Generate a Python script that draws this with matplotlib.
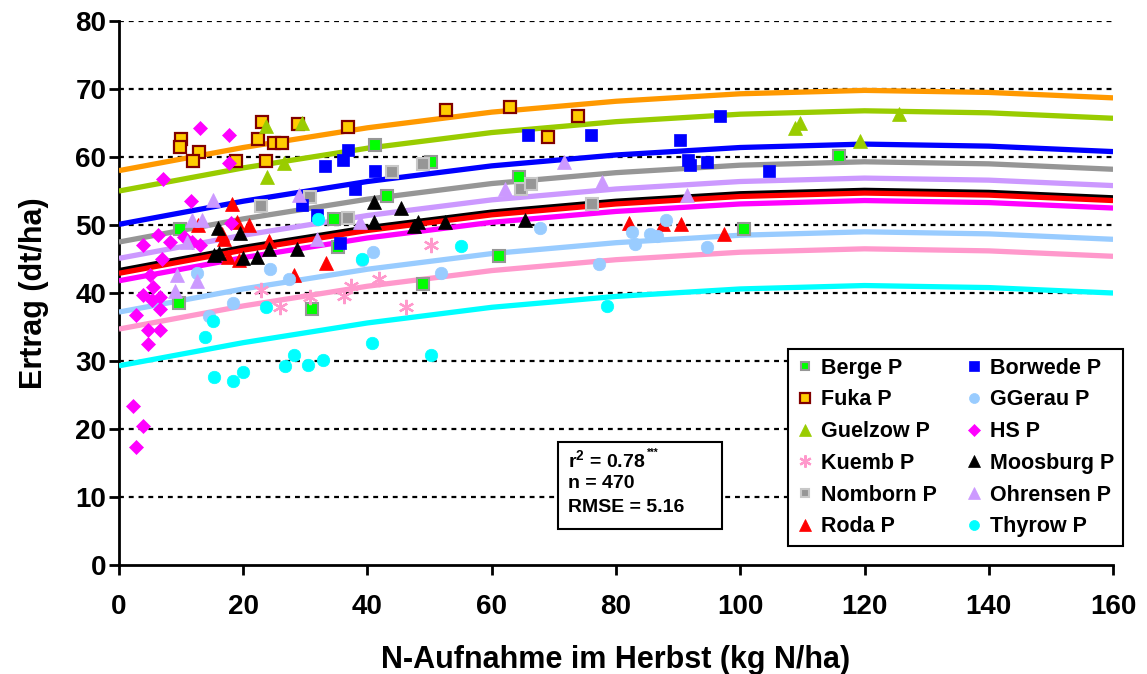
import numpy as np
import matplotlib
matplotlib.use("Agg")
import matplotlib.pyplot as plt
from matplotlib.lines import Line2D
from matplotlib.patches import Rectangle

plt.rcParams['font.family'] = ['Liberation Sans', 'DejaVu Sans']
plt.rcParams['font.weight'] = 'bold'
plt.rcParams['mathtext.fontset'] = 'custom'
plt.rcParams['mathtext.rm'] = 'Liberation Sans:bold'
plt.rcParams['mathtext.it'] = 'Liberation Sans:bold'
plt.rcParams['mathtext.bf'] = 'Liberation Sans:bold'

# fitted curves, read at x = 0, 20, ..., 160
fit_x = [0, 20, 40, 60, 80, 100, 120, 140, 160]
fit_borwede = [50.1, 53.5, 56.4, 58.7, 60.3, 61.4, 61.9, 61.6, 60.8]
fit_fuka = [58.0, 61.4, 64.3, 66.6, 68.2, 69.3, 69.8, 69.5, 68.7]
fit_ggerau = [37.2, 40.6, 43.5, 45.8, 47.4, 48.5, 49.0, 48.7, 47.9]
fit_guelzow = [55.0, 58.4, 61.3, 63.6, 65.2, 66.3, 66.8, 66.5, 65.7]
fit_hs = [41.8, 45.2, 48.1, 50.4, 52.0, 53.1, 53.6, 53.3, 52.5]
fit_kuemb = [34.7, 38.1, 41.0, 43.3, 44.9, 46.0, 46.5, 46.2, 45.4]
fit_moosburg = [43.3, 46.7, 49.6, 51.9, 53.5, 54.6, 55.1, 54.8, 54.0]
fit_nomborn = [47.5, 50.9, 53.8, 56.1, 57.7, 58.8, 59.3, 59.0, 58.2]
fit_ohrensen = [45.1, 48.5, 51.4, 53.7, 55.3, 56.4, 56.9, 56.6, 55.8]
fit_roda = [42.9, 46.3, 49.2, 51.5, 53.1, 54.2, 54.7, 54.4, 53.6]
fit_thyrow = [29.3, 32.7, 35.6, 37.9, 39.5, 40.6, 41.1, 40.8, 40.0]

# measured points (N-Aufnahme, Ertrag)
berge_x = [9.8, 9.7, 31.0, 34.6, 35.3, 41.2, 43.1, 50.2, 64.4, 61.2, 49.0, 115.9, 100.6]
berge_y = [49.4, 38.5, 37.6, 50.9, 46.7, 61.7, 54.3, 59.2, 57.0, 45.5, 41.3, 60.2, 49.4]
borwede_x = [33.2, 36.1, 36.9, 41.2, 38.0, 29.4, 31.8, 35.6, 65.8, 76.0, 96.7, 90.3, 91.6, 91.9, 94.6, 104.6]
borwede_y = [58.7, 59.5, 61.0, 58.0, 55.3, 52.9, 51.5, 47.4, 63.2, 63.2, 66.1, 62.5, 59.6, 58.9, 59.3, 58.0]
fuka_x = [10.0, 9.8, 12.9, 11.9, 18.8, 22.4, 23.0, 23.7, 25.0, 26.2, 28.8, 36.9, 52.6, 63.0, 73.9, 69.0]
fuka_y = [62.6, 61.5, 60.7, 59.4, 59.4, 62.6, 65.1, 59.4, 62.0, 62.0, 64.9, 64.4, 66.9, 67.4, 66.1, 62.9]
ggerau_x = [12.6, 24.3, 27.3, 18.3, 14.5, 39.1, 40.9, 67.7, 51.8, 77.2, 82.5, 83.1, 85.5, 86.6, 88.0, 94.6]
ggerau_y = [43.0, 43.5, 42.0, 38.6, 36.6, 44.9, 46.0, 49.6, 43.0, 44.3, 49.0, 47.2, 48.7, 48.4, 50.7, 46.7]
guelzow_x = [23.6, 29.5, 26.5, 23.9, 108.8, 109.6, 119.3, 125.5]
guelzow_y = [64.6, 65.0, 59.1, 57.1, 64.2, 65.0, 62.3, 66.4]
hs_x = [13.0, 17.7, 7.1, 17.7, 11.6, 18.0, 6.3, 8.2, 10.5, 11.7, 3.9, 13.0, 6.9,
        5.0, 5.5, 3.9, 6.6, 5.3, 2.8, 6.6, 4.7, 6.6, 4.7, 2.3, 3.9, 2.8]
hs_y = [64.2, 63.3, 56.7, 59.1, 53.6, 50.3, 48.5, 47.5, 48.3, 47.5, 47.1, 47.1, 45.0,
        42.6, 40.9, 39.7, 39.4, 39.0, 36.7, 37.7, 34.5, 34.5, 32.5, 23.4, 20.4, 17.3]
kuemb_x = [22.8, 26.0, 30.7, 37.3, 36.2, 41.9, 46.2, 50.2]
kuemb_y = [40.4, 37.9, 39.4, 41.0, 39.6, 42.1, 37.9, 47.0]
moosburg_x = [15.9, 19.5, 15.3, 16.1, 19.9, 22.2, 24.2, 28.7, 41.0, 45.4, 41.0, 47.5, 48.2, 52.5, 65.4]
moosburg_y = [49.5, 48.8, 45.6, 45.9, 45.1, 45.3, 46.5, 46.5, 53.4, 52.5, 50.5, 49.9, 50.4, 50.5, 50.7]
nomborn_x = [22.9, 30.7, 36.9, 43.9, 49.0, 64.7, 66.3, 76.2]
nomborn_y = [52.8, 54.1, 51.1, 57.8, 59.0, 55.3, 56.1, 53.1]
ohrensen_x = [15.2, 29.0, 11.7, 13.4, 11.0, 31.9, 9.3, 12.6, 9.0, 38.8, 62.1, 71.6, 77.8, 91.5]
ohrensen_y = [53.7, 54.4, 50.7, 50.7, 47.5, 47.9, 42.6, 41.8, 40.3, 50.5, 55.3, 59.3, 56.3, 54.4]
roda_x = [18.2, 12.8, 19.0, 20.9, 16.6, 16.9, 24.1, 17.6, 19.3, 33.3, 28.1, 82.1, 87.5, 90.4, 97.4]
roda_y = [53.1, 50.0, 50.4, 50.0, 48.7, 47.9, 47.6, 45.3, 44.9, 44.4, 42.6, 50.3, 50.1, 50.1, 48.7]
thyrow_x = [13.8, 15.1, 23.7, 15.3, 18.3, 19.9, 26.7, 28.1, 30.5, 32.9, 40.7, 50.2, 55.0, 78.5, 39.1, 32.1]
thyrow_y = [33.6, 35.9, 37.9, 27.7, 27.0, 28.4, 29.2, 30.9, 29.4, 30.2, 32.6, 30.9, 46.9, 38.1, 45.0, 50.9]

fig = plt.figure(figsize=(11.47, 6.74), dpi=100)
ax = fig.add_axes([0.1037, 0.1617, 0.8667, 0.8071])

# fit lines
lines = [
    (fit_borwede, '#0000FF'), (fit_fuka, '#FF9900'), (fit_ggerau, '#99CCFF'),
    (fit_guelzow, '#99CC00'), (fit_hs, '#FF00FF'), (fit_kuemb, '#FF99CC'),
    (fit_moosburg, '#000000'), (fit_nomborn, '#969696'), (fit_ohrensen, '#CC99FF'),
    (fit_roda, '#FF0000'), (fit_thyrow, '#00FFFF'),
]
for yv, c in lines:
    ax.plot(fit_x, yv, color=c, lw=3.8, zorder=3, solid_capstyle='butt')

series = {
    'Berge P':    (berge_x, berge_y, dict(marker='s', mfc='#00FF00', mec='#969696', ms=8, mew=1.5)),
    'Fuka P':     (fuka_x, fuka_y, dict(marker='s', mfc='#FFCC00', mec='#800000', ms=8.5, mew=1.6)),
    'Guelzow P':  (guelzow_x, guelzow_y, dict(marker='^', mfc='#99CC00', mec='#99CC00', ms=10, mew=0.5)),
    'Kuemb P':    (kuemb_x, kuemb_y, dict(marker=(6, 2, 0), mfc='none', mec='#FF99CC', ms=11, mew=1.6)),
    'Nomborn P':  (nomborn_x, nomborn_y, dict(marker='s', mfc='#969696', mec='#C8C8C8', ms=8, mew=1.5)),
    'Roda P':     (roda_x, roda_y, dict(marker='^', mfc='#FF0000', mec='#FF0000', ms=10, mew=0.5)),
    'Borwede P':  (borwede_x, borwede_y, dict(marker='s', mfc='#0000FF', mec='#0000FF', ms=8.5, mew=0.5)),
    'GGerau P':   (ggerau_x, ggerau_y, dict(marker='o', mfc='#99CCFF', mec='#99CCFF', ms=9, mew=0.5)),
    'HS P':       (hs_x, hs_y, dict(marker='D', mfc='#FF00FF', mec='#FF00FF', ms=7.5, mew=0.5)),
    'Moosburg P': (moosburg_x, moosburg_y, dict(marker='^', mfc='#000000', mec='#000000', ms=10, mew=0.5)),
    'Ohrensen P': (ohrensen_x, ohrensen_y, dict(marker='^', mfc='#CC99FF', mec='#CC99FF', ms=10, mew=0.5)),
    'Thyrow P':   (thyrow_x, thyrow_y, dict(marker='o', mfc='#00FFFF', mec='#00FFFF', ms=9, mew=0.5)),
}
handles = []
for name, (xs, ys, st) in series.items():
    ax.plot(xs, ys, ls='none', zorder=4, **st)
    hst = dict(st)
    hst['ms'] = st['ms'] * 0.8
    handles.append(Line2D([], [], ls='none', label=name, **hst))

ax.set_xlim(0, 160)
ax.set_ylim(0, 80)
ax.set_xticks(range(0, 161, 20))
ax.set_yticks(range(0, 81, 10))
for yg in range(10, 81, 10):
    ax.axhline(yg, color='black', lw=1.6, ls=(0, (2.2, 2.2)), zorder=1)

for s in ['top', 'right']:
    ax.spines[s].set_visible(False)
for s in ['left', 'bottom']:
    ax.spines[s].set_linewidth(2)
ax.tick_params(direction='out', length=7, width=2, labelsize=20)
ax.tick_params(axis='x', pad=14)
ax.tick_params(axis='y', pad=2)
for lab in ax.get_xticklabels() + ax.get_yticklabels():
    lab.set_fontweight('bold')

ax.set_xlabel('N-Aufnahme im Herbst (kg N/ha)', fontsize=22, fontweight='bold', labelpad=18)
ax.set_ylabel('Ertrag (dt/ha)', fontsize=22, fontweight='bold', labelpad=19)

leg = ax.legend(handles=handles, ncol=2, loc='lower left',
                bbox_to_anchor=(0.673, 0.035, 0.337, 0.358), mode='expand',
                borderaxespad=0, fontsize=15.5, frameon=True, fancybox=False,
                edgecolor='black', framealpha=1, labelspacing=0.5, handlelength=0.8,
                handletextpad=0.35, borderpad=0.4, columnspacing=1.0)
leg.get_frame().set_linewidth(1.5)
leg.set_zorder(6)

# statistics box
ax.add_patch(Rectangle((0.4417, 0.066), 0.165, 0.160, transform=ax.transAxes,
                       facecolor='white', edgecolor='black', lw=1.5, zorder=6, clip_on=False))
t1 = ax.text(0.452, 0.193, r'r$^{2}$ = 0.78', transform=ax.transAxes, fontsize=14,
             fontweight='bold', va='center', zorder=7)
ax.annotate('***', xy=(1, 1), xycoords=t1, xytext=(1, 1), textcoords='offset points',
            fontsize=7, fontweight='bold', va='top', ha='left', zorder=7)
ax.text(0.452, 0.149, 'n = 470', transform=ax.transAxes, fontsize=14,
        fontweight='bold', va='center', zorder=7)
ax.text(0.452, 0.105, 'RMSE = 5.16', transform=ax.transAxes, fontsize=14,
        fontweight='bold', va='center', zorder=7)

fig.savefig('out.png', dpi=100)
